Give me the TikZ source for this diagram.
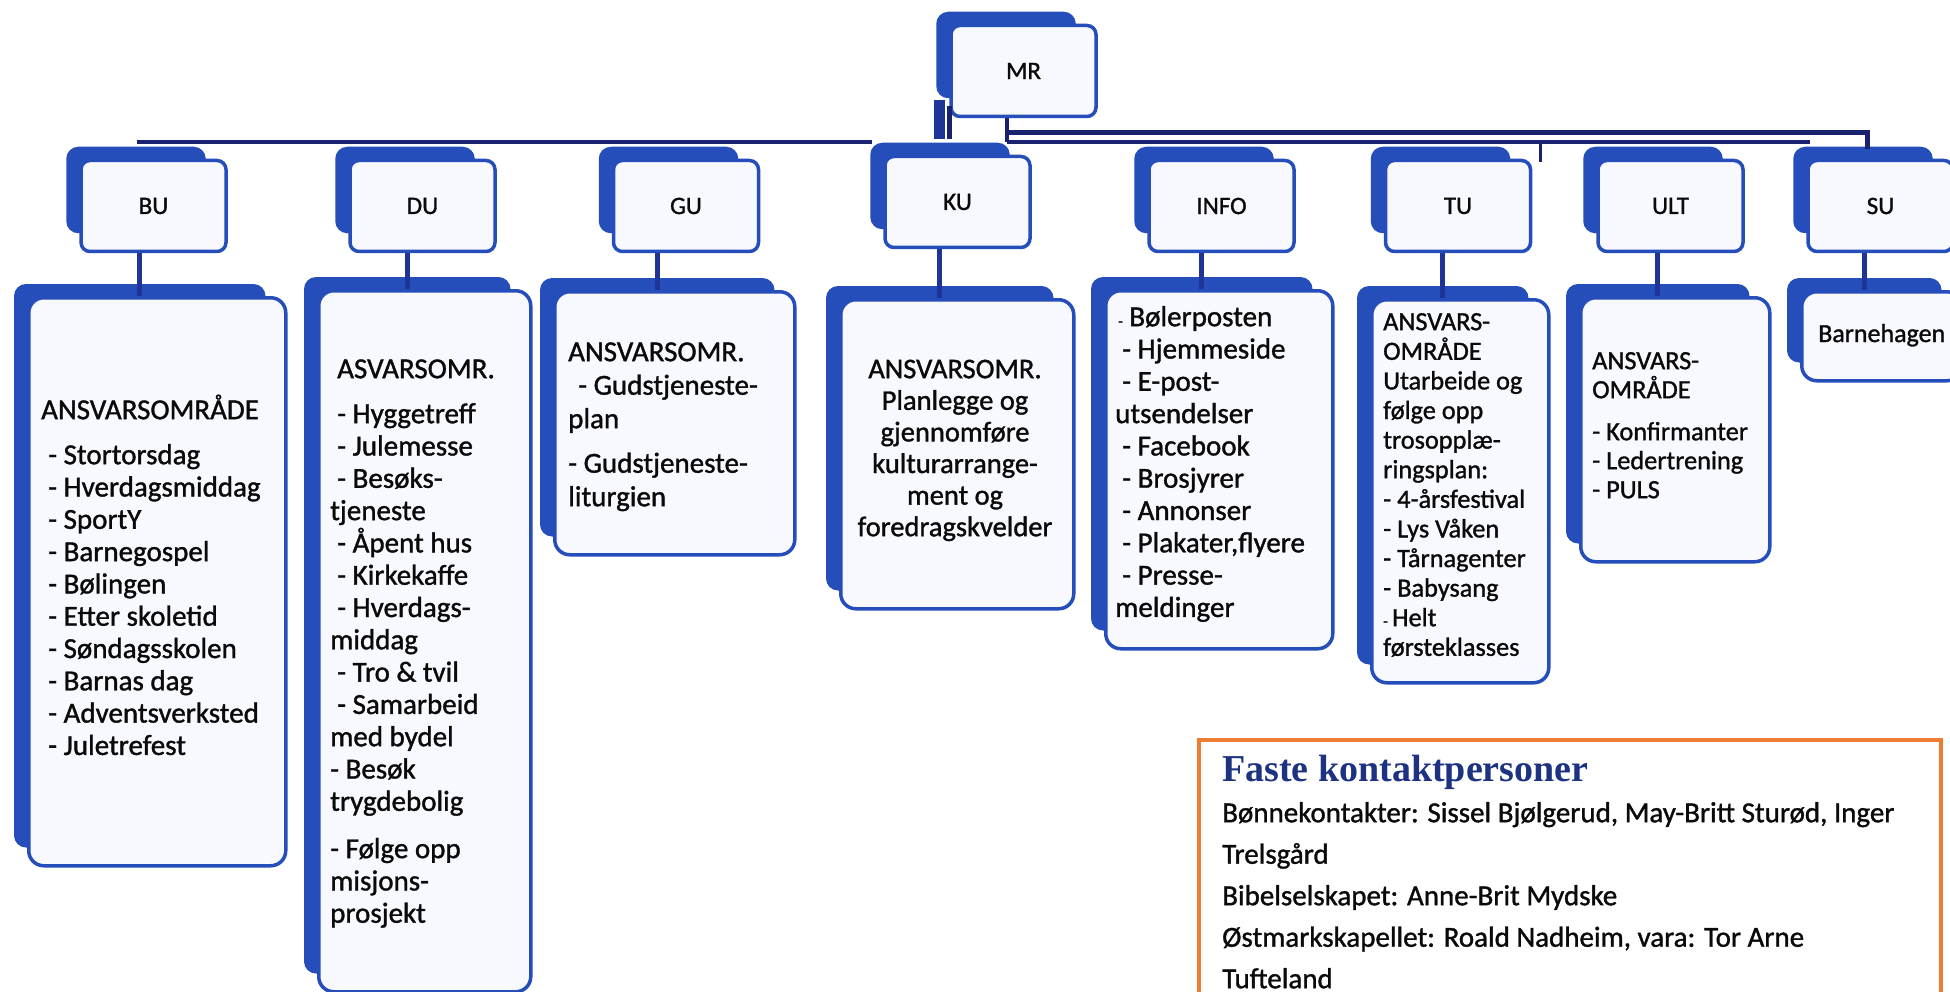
\documentclass[tikz,border=0pt]{standalone}
\usepackage{fontspec}
\setmainfont{Carlito}[UprightFeatures={FakeBold=1.2}]
\newfontfamily\titlefont{Liberation Serif}
\usetikzlibrary{backgrounds}
\definecolor{boxblue}{RGB}{38,78,186}
\definecolor{connblue}{RGB}{30,52,150}
\definecolor{busnavy}{RGB}{26,34,112}
\definecolor{frontfill}{RGB}{247,249,254}
\definecolor{titleblue}{RGB}{30,50,130}
\definecolor{orangeline}{RGB}{237,125,49}
\definecolor{txtcol}{RGB}{10,10,10}
\newcommand{\tstrut}{\rule{0pt}{26pt}}
\newcommand{\smalldash}{{\fontsize{15}{15}\selectfont -}}
\begin{document}
\begin{tikzpicture}[x=1pt,y=-1pt,
  smallbox/.style={draw=boxblue, line width=3.5pt, fill=frontfill, rounded corners=9pt,
    minimum width=145pt, minimum height=91pt, inner sep=0pt,
    font=\fontsize{25}{28}\selectfont, text=txtcol},
  bigbox/.style={draw=boxblue, line width=3.5pt, fill=frontfill, rounded corners=15pt,
    inner sep=0pt, anchor=north west},
  listtext/.style={anchor=north west, inner sep=0pt, align=left, text=txtcol,
    font=\fontsize{29}{32.3}\selectfont},
  backshape/.style={fill=boxblue, rounded corners=12pt},
  conn/.style={draw=connblue, line width=5pt},
  bus/.style={draw=busnavy, line width=4pt},
]
\useasboundingbox (0,0) rectangle (1950,992);

% ---------- small boxes ----------
\node[smallbox] (mr) at (1023.5,71) {MR};
\node[smallbox] (bu) at (153.5,206) {BU};
\node[smallbox] (du) at (422.5,206) {DU};
\node[smallbox] (gu) at (686,206) {GU};
\node[smallbox] (ku) at (957.5,202) {KU};
\node[smallbox] (info) at (1221.5,206) {INFO};
\node[smallbox] (tu) at (1458,206) {TU};
\node[smallbox] (ult) at (1670.5,206) {ULT};
\node[smallbox] (su) at (1880.5,206) {SU};

% ---------- big boxes ----------
\node[bigbox, minimum width=257pt, minimum height=568pt] (bubig) at (27,296) {};
\node[bigbox, minimum width=212pt, minimum height=701pt] (dubig) at (317,289) {};
\node[bigbox, minimum width=240pt, minimum height=263pt] (gubig) at (553,290) {};
\node[bigbox, minimum width=233pt, minimum height=309pt] (kubig) at (839,298) {};
\node[bigbox, minimum width=227pt, minimum height=358pt] (infobig) at (1104,289) {};
\node[bigbox, minimum width=177pt, minimum height=383pt] (tubig) at (1370,298) {};
\node[bigbox, minimum width=189pt, minimum height=264pt] (ultbig) at (1579,296) {};
\node[bigbox, minimum width=160pt, minimum height=89pt] (subig) at (1800,290) {};

% ---------- connectors small -> big ----------
\foreach \s/\b in {bu/bubig,du/dubig,gu/gubig,ku/kubig,info/infobig,tu/tubig,ult/ultbig,su/subig}{
  \coordinate (c\s) at ([xshift=-17.5pt]\b.north);
  \draw[conn] (c\s) -- (c\s |- \s.south);
}

% ---------- bus lines ----------
\coordinate (mrdrop) at ([xshift=-16.5pt]mr.south);
\coordinate (busR) at (1007,142);
\draw[bus] (mrdrop) -- (busR);
\coordinate (busU) at (1007,133);
\coordinate (busUend) at (1867,149);
\draw[bus, line width=5pt] (busU) -| (busUend);
\coordinate (busLend) at (1810,142);
\draw[bus] (busR) -- (busLend);
\coordinate (tickA) at (1540,142);
\coordinate (tickB) at (1540,162);
\draw[bus, line width=3pt] (tickA) -- (tickB);
\coordinate (busW1) at (137,142);
\coordinate (busW2) at (872,142);
\draw[bus] (busW1) -- (busW2);
\coordinate (dva) at (939,100);
\coordinate (dvb) at (939,139);
\draw[conn, line width=11pt] (dva) -- (dvb);
\coordinate (dvc) at (949.5,106);
\coordinate (dvd) at (949.5,139);
\draw[bus, line width=4.5pt] (dvc) -- (dvd);

% ---------- texts ----------
\node[listtext] (butext) at (41,393) {\tstrut ANSVARSOMRÅDE\\[12.7pt]
\hspace*{7pt}- Stortorsdag\\
\hspace*{7pt}- Hverdagsmiddag\\
\hspace*{7pt}- SportY\\
\hspace*{7pt}- Barnegospel\\
\hspace*{7pt}- Bølingen\\
\hspace*{7pt}- Etter skoletid\\
\hspace*{7pt}- Søndagsskolen\\
\hspace*{7pt}- Barnas dag\\
\hspace*{7pt}- Adventsverksted\\
\hspace*{7pt}- Juletrefest};

\node[listtext] (dutext) at (330,352) {\tstrut\hspace*{7pt}ASVARSOMR.\\[12.7pt]
\hspace*{7pt}- Hyggetreff\\
\hspace*{7pt}- Julemesse\\
\hspace*{7pt}- Besøks-\\
tjeneste\\
\hspace*{7pt}- Åpent hus\\
\hspace*{7pt}- Kirkekaffe\\
\hspace*{7pt}- Hverdags-\\
middag\\
\hspace*{7pt}- Tro \& tvil\\
\hspace*{7pt}- Samarbeid\\
med bydel\\
- Besøk\\
trygdebolig\\[15pt]
- Følge opp\\
misjons-\\
prosjekt};

\node[listtext, font=\fontsize{29}{33.5}\selectfont] (gutext) at (568,335) {\tstrut ANSVARSOMR.\\
\hspace*{10pt}- Gudstjeneste-\\
plan\\[11pt]
- Gudstjeneste-\\
liturgien};

\node[listtext, anchor=north, align=center, font=\fontsize{28.5}{31.6}\selectfont] (kutext) at (955,352) {\tstrut ANSVARSOMR.\\
Planlegge og\\
gjennomføre\\
kulturarrange-\\
ment og\\
foredragskvelder};

\node[listtext] (infotext) at (1115,300) {\tstrut\hspace*{3pt}\smalldash\ Bølerposten\\
\hspace*{7pt}- Hjemmeside\\
\hspace*{7pt}- E-post-\\
utsendelser\\
\hspace*{7pt}- Facebook\\
\hspace*{7pt}- Brosjyrer\\
\hspace*{7pt}- Annonser\\
\hspace*{7pt}- Plakater,flyere\\
\hspace*{7pt}- Presse-\\
meldinger};

\node[listtext, font=\fontsize{26.3}{29.6}\selectfont] (tutext) at (1383,304) {\tstrut ANSVARS-\\
OMRÅDE\\
Utarbeide og\\
følge opp\\
trosopplæ-\\
ringsplan:\\
- 4-årsfestival\\
- Lys Våken\\
- Tårnagenter\\
- Babysang\\
\smalldash\,Helt\\
førsteklasses};

\node[listtext, font=\fontsize{26.3}{29}\selectfont] (ulttext) at (1592,343) {\tstrut ANSVARS-\\
OMRÅDE\\[13pt]
- Konfirmanter\\
- Ledertrening\\
- PULS};

\node[anchor=base west, inner sep=0pt, text=txtcol, font=\fontsize{26}{30}\selectfont] (sutext) at (1818,342) {Barnehagen};

% ---------- contact box ----------
\node[draw=orangeline, line width=3.5pt, fill=white, anchor=north west,
  minimum width=742pt, minimum height=290pt, inner sep=0pt] (faste) at (1197,738) {};
\node[anchor=base west, inner sep=0pt, text=titleblue,
  font=\titlefont\bfseries\fontsize{38}{42}\selectfont] (fastetitle) at (1222,781) {Faste kontaktpersoner};
\node[listtext, font=\fontsize{29}{41.5}\selectfont] (fastebody) at (1222,796) {\tstrut Bønnekontakter: Sissel Bjølgerud, May-Britt Sturød, Inger\\
Trelsgård\\
Bibelselskapet: Anne-Brit Mydske\\
Østmarkskapellet: Roald Nadheim, vara: Tor Arne\\
Tufteland};

% ---------- back (shadow) shapes ----------
\begin{scope}[on background layer]
\fill[white] (0,0) rectangle (1950,992);
\foreach \n in {mr,bu,du,gu,ku,info,tu,ult,su,bubig,dubig,gubig,kubig,infobig,tubig,ultbig,subig}
  \fill[backshape] ([shift={(-13,-12)}]\n.north west) rectangle ([shift={(-22,-20)}]\n.south east);
\end{scope}
\end{tikzpicture}
\end{document}
